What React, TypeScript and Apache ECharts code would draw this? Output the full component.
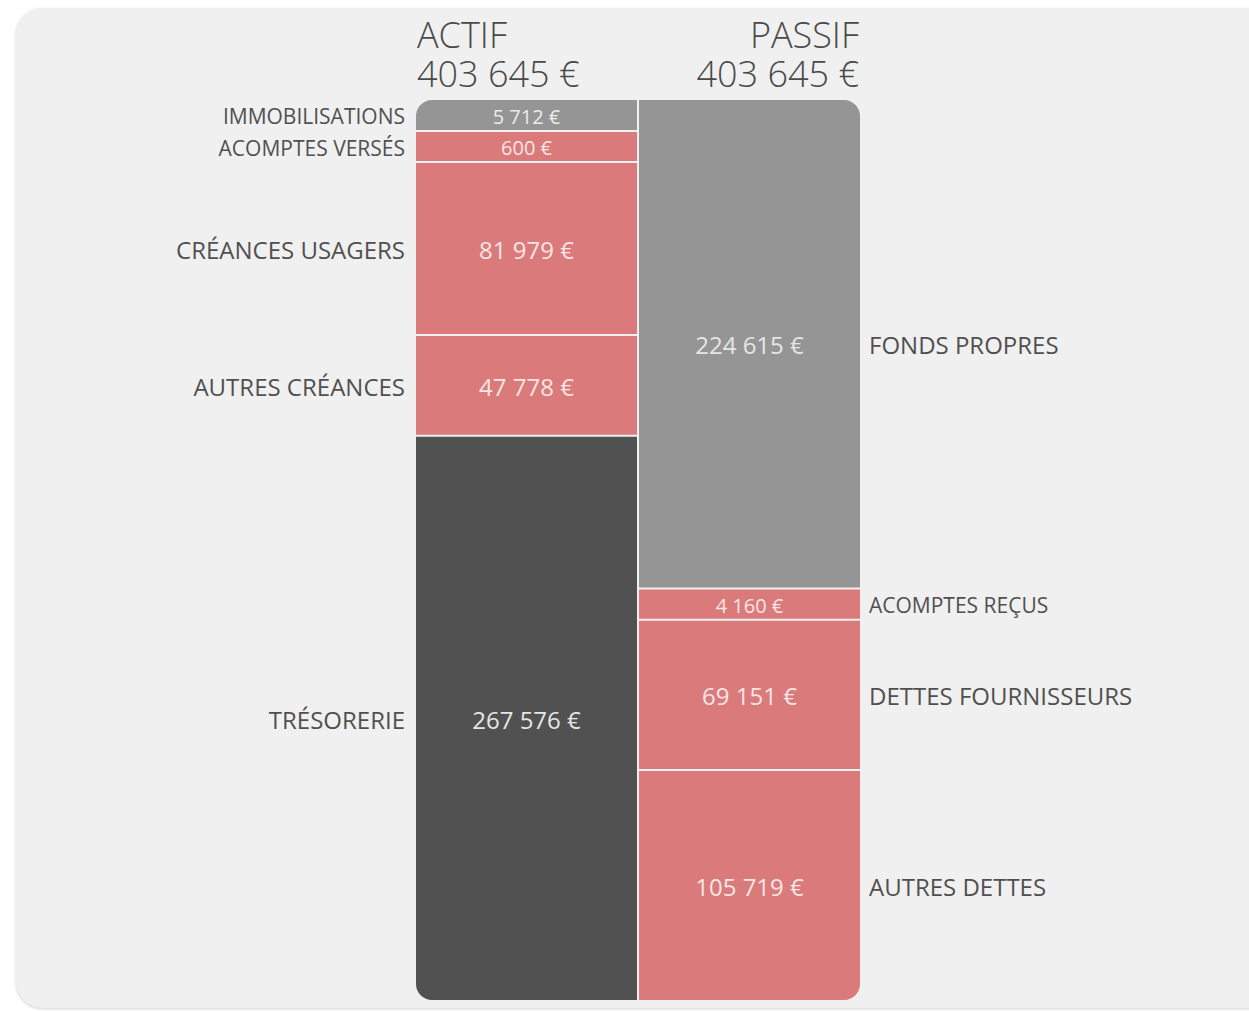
import React, { useEffect, useRef } from "react";
import * as echarts from "echarts";

const columns = ["ACTIF", "PASSIF"];

const actifNames = ["IMMOBILISATIONS", "ACOMPTES VERSÉS", "CRÉANCES USAGERS", "AUTRES CRÉANCES", "TRÉSORERIE"];
const actifValues = [5712, 600, 81979, 47778, 267576];
const actifKinds = ["fixed", "receivable", "receivable", "receivable", "cash"];

const passifNames = ["FONDS PROPRES", "ACOMPTES REÇUS", "DETTES FOURNISSEURS", "AUTRES DETTES"];
const passifValues = [224615, 4160, 69151, 105719];
const passifKinds = ["equity", "debt", "debt", "debt"];

const MIN_SHARE = 3.45; // minimum visible share (%) for tiny items

const kindColors: Record<string, string> = {
  fixed: "#959595",
  receivable: "#db7a7a",
  cash: "#515151",
  equity: "#959595",
  debt: "#db7a7a",
};
const kindText: Record<string, string> = {
  fixed: "#ececec",
  receivable: "#f7e6e6",
  cash: "#e6e6e6",
  equity: "#e6e6e6",
  debt: "#f7e6e6",
};

const FONT = "'Open Sans', 'Noto Sans', sans-serif";

function fmt(v: number): string {
  return String(v).replace(/\B(?=(\d{3})+(?!\d))/g, " ") + " €";
}

function layout(values: number[]): [number, number][] {
  const total = values.reduce((a, b) => a + b, 0);
  const small = values.map((v) => (v / total) * 100 < MIN_SHARE);
  const nSmall = small.filter(Boolean).length;
  const sumLarge = values.reduce((a, v, i) => (small[i] ? a : a + v), 0);
  const remaining = 100 - nSmall * MIN_SHARE;
  let acc = 0;
  return values.map((v, i) => {
    const share = small[i] ? MIN_SHARE : (v / sumLarge) * remaining;
    const s = acc;
    acc += share;
    return [s, acc];
  });
}

export default function App() {
  const ref = useRef<HTMLDivElement>(null);
  useEffect(() => {
    document.body.style.margin = "0";
    if (!ref.current) return;
    const chart = echarts.init(ref.current, undefined, { renderer: "svg" });

    const items: any[] = [];
    const addCol = (col: number, names: string[], values: number[], kinds: string[]) => {
      const lay = layout(values);
      values.forEach((v, i) => {
        items.push({ value: [col, lay[i][0], lay[i][1], v, i], name: names[i], kind: kinds[i] });
      });
    };
    addCol(0, actifNames, actifValues, actifKinds);
    addCol(1, passifNames, passifValues, passifKinds);

    const totalA = actifValues.reduce((a, b) => a + b, 0);
    const totalP = passifValues.reduce((a, b) => a + b, 0);

    const titleStyle = (text: string, align: string) => ({
      text,
      font: `300 36px ${FONT}`,
      lineHeight: 38,
      fill: "#4a4a4a",
      align,
    });

    const option: any = {
      animation: false,
      backgroundColor: "transparent",
      grid: { left: 416, right: 389, top: 100, bottom: 11 },
      xAxis: { type: "category", data: columns, show: false },
      yAxis: { type: "value", min: 0, max: 100, inverse: true, show: false },
      graphic: [
        { type: "text", left: 417, top: 15, style: titleStyle(columns[0], "left") },
        { type: "text", left: 417, top: 54, style: titleStyle(fmt(totalA), "left") },
        { type: "text", right: 390, top: 15, style: titleStyle(columns[1], "right") },
        { type: "text", right: 390, top: 54, style: titleStyle(fmt(totalP), "right") },
      ],
      series: [
        {
          type: "custom",
          data: items,
          renderItem: (params: any, api: any) => {
            const item = items[params.dataIndex];
            const col = api.value(0);
            const s = api.value(1);
            const e = api.value(2);
            const p0 = api.coord([col, s]);
            const p1 = api.coord([col, e]);
            const bw = api.size([1, 0])[0];
            let x = p0[0] - bw / 2;
            let w = bw;
            if (col === 0) w -= 1;
            else { x += 1; w -= 1; }
            let y0 = p0[1];
            let y1 = p1[1];
            if (s > 0.001) y0 += 1;
            if (e < 99.999) y1 -= 1;
            const h = y1 - y0;
            const R = 16;
            const first = s < 0.001;
            const last = e > 99.999;
            const r =
              col === 0
                ? [first ? R : 0, 0, 0, last ? R : 0]
                : [0, first ? R : 0, last ? R : 0, 0];
            const smallCell = h < 45;
            const cy = (y0 + y1) / 2;
            const nameX = col === 0 ? x - 11 : x + w + 9;
            return {
              type: "group",
              children: [
                {
                  type: "rect",
                  shape: { x, y: y0, width: w, height: h, r },
                  style: { fill: kindColors[item.kind] },
                },
                {
                  type: "text",
                  style: {
                    text: fmt(api.value(3)),
                    x: x + w / 2,
                    y: cy + 1,
                    align: "center",
                    verticalAlign: "middle",
                    fill: kindText[item.kind],
                    font: `400 ${smallCell ? 20 : 24}px ${FONT}`,
                  },
                },
                {
                  type: "text",
                  style: {
                    text: item.name,
                    x: nameX,
                    y: cy + 1,
                    align: col === 0 ? "right" : "left",
                    verticalAlign: "middle",
                    fill: "#505050",
                    font: `400 ${smallCell ? 21 : 24}px ${FONT}`,
                  },
                },
              ],
            };
          },
        },
      ],
    };
    chart.setOption(option);
    return () => chart.dispose();
  }, []);

  return (
    <div style={{ position: "relative", width: 1249, height: 1011, background: "#ffffff", overflow: "hidden" }}>
      <div
        style={{
          position: "absolute",
          left: 16,
          top: 8,
          width: 1300,
          height: 1000,
          background: "#f0f0f0",
          borderRadius: 26,
          boxShadow: "0 1px 3px rgba(0,0,0,0.18)",
        }}
      />
      <div ref={ref} style={{ position: "absolute", left: 0, top: 0, width: 1249, height: 1011 }} />
    </div>
  );
}
